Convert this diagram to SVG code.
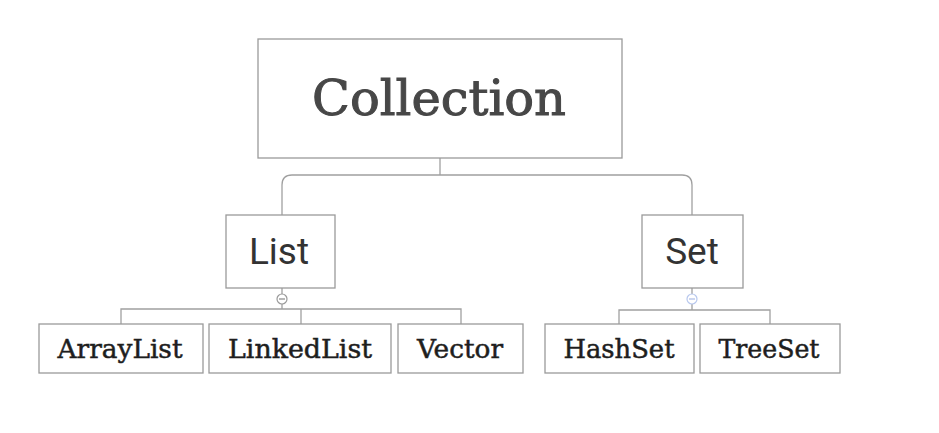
<svg xmlns="http://www.w3.org/2000/svg" width="939" height="433" viewBox="0 0 939 433">
<style>
.box{fill:#fff;stroke:#9a9a9a;stroke-width:1.3}
.ln{fill:none;stroke:#a0a0a0;stroke-width:1.3}
.slab{font-family:"DejaVu Serif","Liberation Serif",serif;text-anchor:middle}
.sans{font-family:Roboto,"Liberation Sans",sans-serif;text-anchor:middle;fill:#333}
.leaf{font-size:26px;fill:#1e1e1e;stroke:#1e1e1e;stroke-width:0.5}
</style>
<rect width="939" height="433" fill="#fff"/>
<g id="connectors">
<path class="ln" d="M440 158 V175 M282 215 V185 Q282 175 292 175 H682 Q692 175 692 185 V215"/>
<path class="ln" d="M282 288 V294 M282 304 V309 M121 324 V309 H461 V324 M301 309 V324"/>
<path class="ln" d="M692 288 V294 M692 304 V310 M619 324 V310 H770 V324"/>
<circle cx="282" cy="299" r="5" fill="#fff" stroke="#9a9a9a" stroke-width="1.2"/>
<path d="M279 299 H285" stroke="#888" stroke-width="1.2"/>
<circle cx="692" cy="299" r="5" fill="#fff" stroke="#b8c8ee" stroke-width="1.2"/>
<path d="M689 299 H695" stroke="#aabbe6" stroke-width="1.2"/>
</g>
<g id="collection">
<rect class="box" x="258" y="39" width="364" height="119"/>
<text class="slab" x="439" y="115" font-size="48" fill="#474747" stroke="#474747" stroke-width="1" textLength="254" lengthAdjust="spacingAndGlyphs">Collection</text>
</g>
<g id="list">
<rect class="box" x="226" y="215" width="109" height="73"/>
<text class="sans" x="279" y="264" font-size="37">List</text>
</g>
<g id="set">
<rect class="box" x="642" y="215" width="101" height="73"/>
<text class="sans" x="692" y="264" font-size="37">Set</text>
</g>
<g id="arraylist">
<rect class="box" x="39" y="324" width="164" height="49"/>
<text class="slab leaf" x="120" y="358" textLength="125" lengthAdjust="spacingAndGlyphs">ArrayList</text>
</g>
<g id="linkedlist">
<rect class="box" x="209" y="324" width="182" height="49"/>
<text class="slab leaf" x="300" y="358" textLength="144" lengthAdjust="spacingAndGlyphs">LinkedList</text>
</g>
<g id="vector">
<rect class="box" x="398" y="324" width="125" height="49"/>
<text class="slab leaf" x="460" y="358" textLength="86" lengthAdjust="spacingAndGlyphs">Vector</text>
</g>
<g id="hashset">
<rect class="box" x="545" y="324" width="149" height="49"/>
<text class="slab leaf" x="619" y="358" textLength="111" lengthAdjust="spacingAndGlyphs">HashSet</text>
</g>
<g id="treeset">
<rect class="box" x="700" y="324" width="140" height="49"/>
<text class="slab leaf" x="769" y="358" textLength="101" lengthAdjust="spacingAndGlyphs">TreeSet</text>
</g>
</svg>
